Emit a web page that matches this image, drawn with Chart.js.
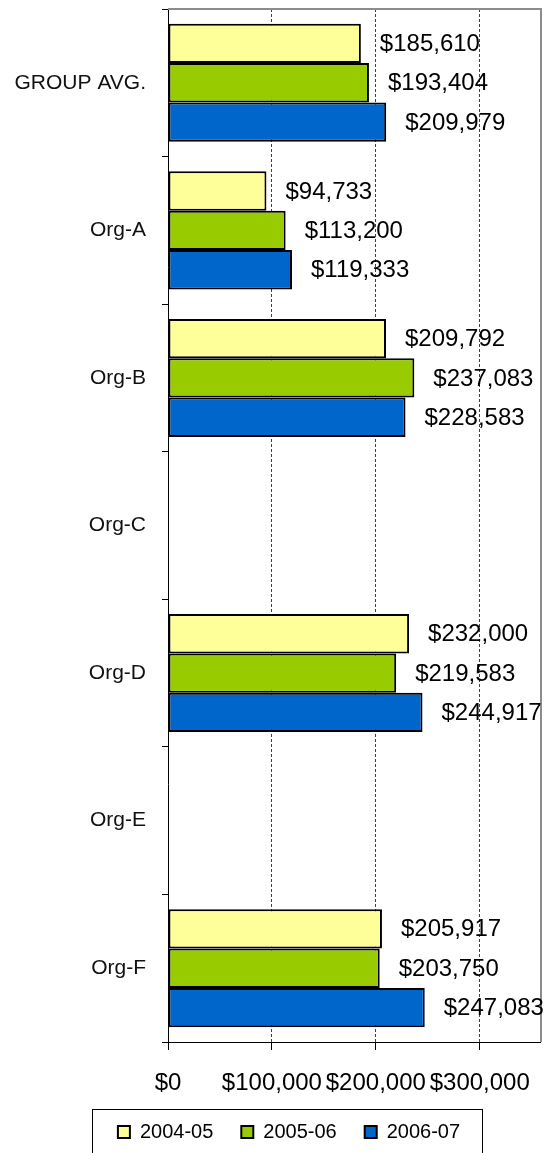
<!DOCTYPE html>
<html>
<head>
<meta charset="utf-8">
<script src="https://cdn.jsdelivr.net/npm/chart.js@4"></script>
<style>
  html, body { margin: 0; padding: 0; background: #fff; }
  #wrap { width: 544px; height: 1153px; }
</style>
</head>
<body>
<div id="wrap"><canvas id="chart"></canvas></div>
<script>
"use strict";

// Salary by organisation, three fiscal years
const CATEGORIES = ["GROUP AVG.", "Org-A", "Org-B", "Org-C", "Org-D", "Org-E", "Org-F"];
const YEARS = ["2004-05", "2005-06", "2006-07"];
const FY0405 = [185610, 94733, 209792, null, 232000, null, 205917];
const FY0506 = [193404, 113200, 237083, null, 219583, null, 203750];
const FY0607 = [209979, 119333, 228583, null, 244917, null, 247083];
const COLORS = ["#FFFF99", "#99CC00", "#0066CC"];
const X_TICKS = [0, 100000, 200000, 300000];
const X_MAX = 358000;

const FONT = "'Liberation Sans', Arial, sans-serif";
const PAD = { top: 9, right: 4, bottom: 1, left: 4 };
const AXIS_LEFT = 168;
const X_AXIS_H = 52;
const LEGEND_SHIFT = 17;

const money = (v) => "$" + Math.round(v).toLocaleString("en-US");

// "$xxx,xxx" just past the end of every bar
const valueLabels = {
  id: "valueLabels",
  afterDatasetsDraw(chart) {
    const ctx = chart.ctx;
    ctx.save();
    ctx.font = `24px ${FONT}`;
    ctx.fillStyle = "#000";
    ctx.textAlign = "left";
    ctx.textBaseline = "middle";
    chart.data.datasets.forEach((ds, i) => {
      chart.getDatasetMeta(i).data.forEach((bar, j) => {
        const v = ds.data[j];
        if (v == null) return;
        ctx.fillText(money(v), bar.x + 19, bar.y + 1);
      });
    });
    ctx.restore();
  },
};

// grey frame on top/right of the plot, the legend nudged right, and its box
const frames = {
  id: "frames",
  afterLayout(chart) {
    const lg = chart.legend;
    if (!lg) return;
    lg.left += LEGEND_SHIFT;
    lg.right += LEGEND_SHIFT;
  },
  beforeDatasetsDraw(chart) {
    const { ctx, chartArea: a } = chart;
    ctx.save();
    ctx.strokeStyle = "#8c8c8c";
    ctx.lineWidth = 2;
    ctx.beginPath();
    ctx.moveTo(a.left, a.top);
    ctx.lineTo(a.right + 1, a.top);
    ctx.lineTo(a.right + 1, a.bottom);
    ctx.stroke();
    ctx.restore();
  },
  afterDraw(chart) {
    const lg = chart.legend;
    if (!lg || !lg.legendHitBoxes.length) return;
    const boxes = lg.legendHitBoxes;
    const l = Math.min(...boxes.map(b => b.left)) - 26;
    const r = Math.max(...boxes.map(b => b.left + b.width)) + 22;
    const t = Math.min(...boxes.map(b => b.top)) - 13;
    const ctx = chart.ctx;
    ctx.save();
    ctx.strokeStyle = "#000";
    ctx.lineWidth = 1;
    ctx.strokeRect(Math.round(l) + 0.5, Math.round(t) + 0.5, Math.round(r - l), 80);
    ctx.restore();
  },
};

const series = [FY0405, FY0506, FY0607];

new Chart(document.getElementById("chart"), {
  type: "bar",
  data: {
    labels: CATEGORIES,
    datasets: YEARS.map((y, i) => ({
      label: y,
      data: series[i],
      backgroundColor: COLORS[i],
      borderColor: "#000",
      borderWidth: 2,
      borderSkipped: false,
      categoryPercentage: 0.8,
      barPercentage: 1.0,
    })),
  },
  options: {
    indexAxis: "y",
    responsive: true,
    maintainAspectRatio: false,
    animation: false,
    layout: { padding: PAD },
    plugins: {
      tooltip: { enabled: false },
      legend: {
        position: "bottom",
        labels: {
          color: "#000",
          font: { family: FONT, size: 20 },
          boxWidth: 12,
          boxHeight: 12,
          padding: 28,
        },
      },
    },
    scales: {
      x: {
        min: 0,
        max: X_MAX,
        afterBuildTicks: (s) => { s.ticks = X_TICKS.map(v => ({ value: v })); },
        afterFit: (s) => { s.height = X_AXIS_H; s.paddingLeft = 0; s.paddingRight = 0; },
        border: { color: "#000", width: 1, dash: [3, 2] },
        grid: {
          color: (c) => (c.tick && c.tick.value === 0 ? "rgba(0,0,0,0)" : "#404040"),
          tickColor: "#000",
          tickBorderDash: [],
          tickLength: 8,
          lineWidth: 1,
        },
        ticks: {
          color: "#000",
          font: { family: FONT, size: 24 },
          padding: 19,
          maxRotation: 0,
          autoSkip: false,
          callback: (v) => money(v),
        },
      },
      y: {
        afterFit: (s) => {
          s.width = AXIS_LEFT - PAD.left;
          s.paddingTop = 0;
          s.paddingBottom = 0;
        },
        border: { color: "#000", width: 1 },
        grid: {
          drawOnChartArea: false,
          drawTicks: true,
          tickLength: 6,
          color: "#000",
        },
        ticks: {
          color: "#111",
          font: { family: FONT, size: 21 },
          padding: 16,
        },
      },
    },
  },
  plugins: [valueLabels, frames],
});
</script>
</body>
</html>
